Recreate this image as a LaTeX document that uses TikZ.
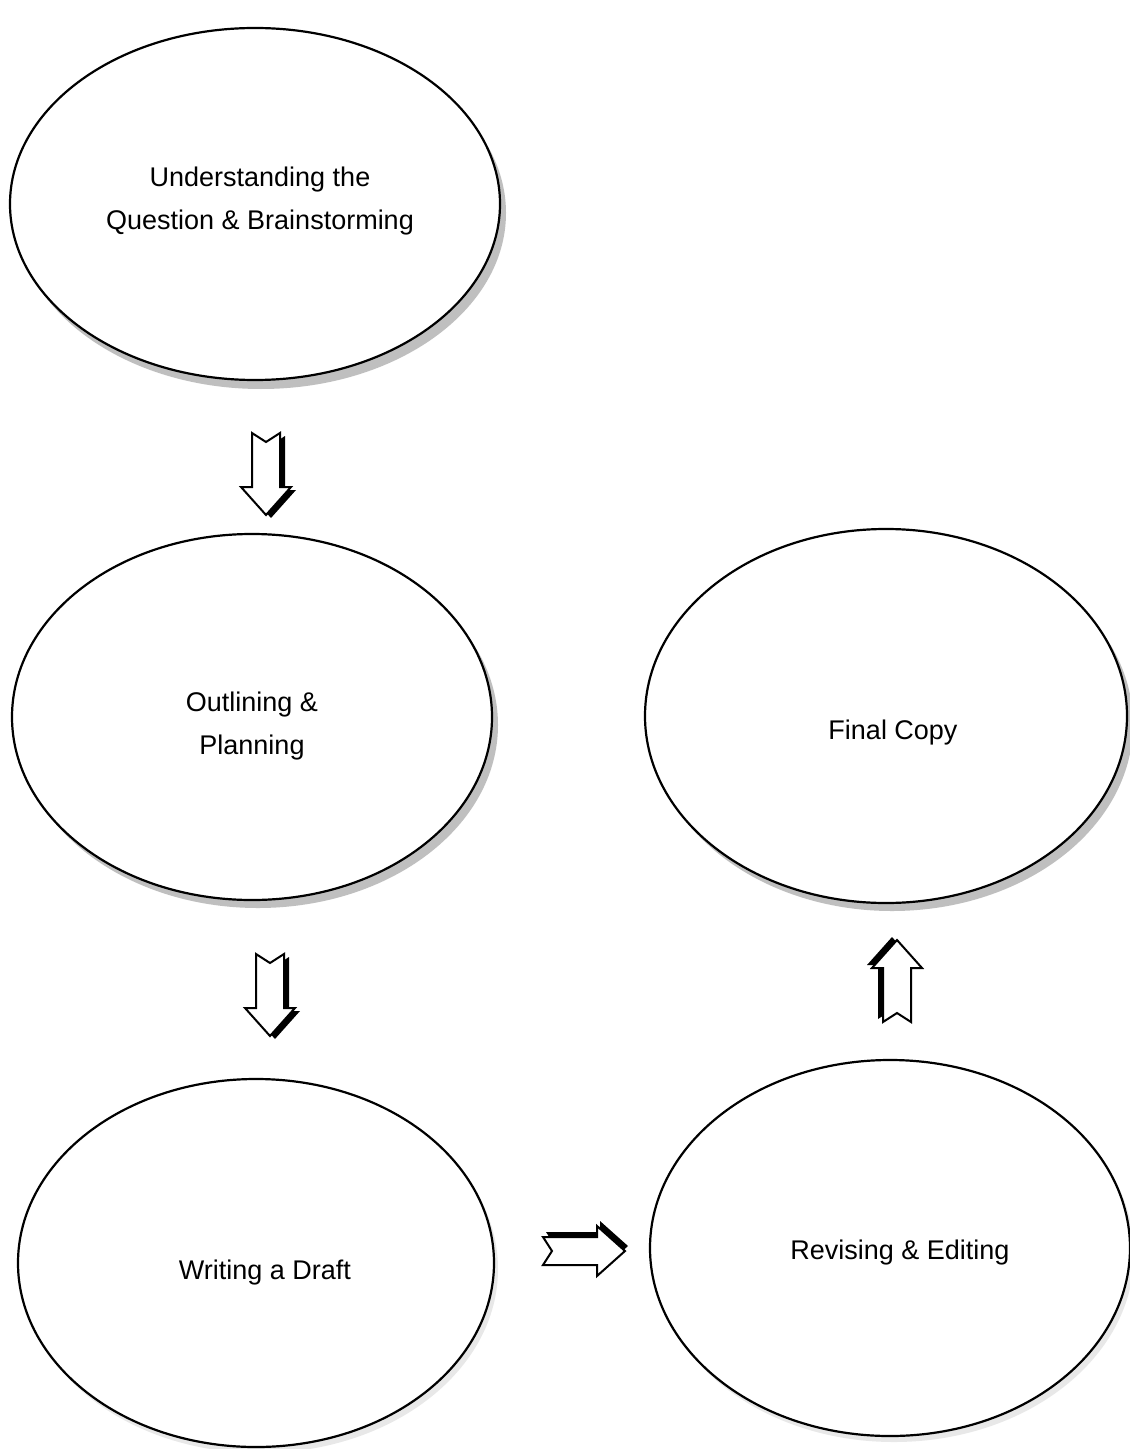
\documentclass[tikz,border=0pt]{standalone}
\usepackage{fontspec}
\setmainfont{Liberation Sans}
\usetikzlibrary{shapes.geometric}
\tikzset{
  stage/.style={ellipse, draw=black, line width=1.1pt, fill=white, inner sep=0pt},
  stagetext/.style={align=center, inner sep=0pt, font=\fontsize{13.5}{21.5}\selectfont},
  shadowell/.style={ellipse, fill=gray!50, draw=none, inner sep=0pt},
  lightshadow/.style={ellipse, fill=gray!18, draw=none, inner sep=0pt},
  blockarrow/.pic={
    \fill[black, shift={(5,3)}] (-14,-41) -- (0,-32) -- (14,-41) -- (14,13) -- (25,13)
      -- (0,41) -- (-25,13) -- (-14,13) -- cycle;
    \draw[line width=1pt, fill=white, line join=miter] (-14,-41) -- (0,-32) -- (14,-41)
      -- (14,13) -- (25,13) -- (0,41) -- (-25,13) -- (-14,13) -- cycle;
  }
}
\begin{document}
\begin{tikzpicture}[x=0.5pt, y=-0.5pt]
\useasboundingbox[fill=white] (0,0) rectangle (1129,1449);
% shadows
\node[shadowell, minimum width=245pt, minimum height=176pt] (s1) at (261,213) {};
\node[shadowell, minimum width=240pt, minimum height=183pt] (s2) at (258,725) {};
\node[shadowell, minimum width=241pt, minimum height=187pt] (s3) at (892,724) {};
\node[lightshadow, minimum width=238pt, minimum height=184pt] (s4) at (260,1269) {};
\node[lightshadow, minimum width=240pt, minimum height=188pt] (s5) at (894,1254) {};
% stages
\node[stage, minimum width=245pt, minimum height=176pt] (e1) at (255,204) {};
\node[stage, minimum width=240pt, minimum height=183pt] (e2) at (252,717) {};
\node[stage, minimum width=241pt, minimum height=187pt] (e3) at (886,716) {};
\node[stage, minimum width=238pt, minimum height=184pt] (e4) at (256,1263) {};
\node[stage, minimum width=240pt, minimum height=188pt] (e5) at (890,1248) {};
% texts
\node[stagetext] (t1) at (260,201) {Understanding the\\Question \& Brainstorming};
\node[stagetext] (t2) at (252,726) {Outlining \&\\Planning};
\node[stagetext] (t3) at (893,733) {Final Copy};
\node[stagetext] (t4) at (265,1273) {Writing a Draft};
\node[stagetext] (t5) at (900,1253) {Revising \& Editing};
% block arrows
\pic at (266,474) {blockarrow};
\pic at (270,995) {blockarrow};
\pic[rotate=180] at (897,981) {blockarrow};
\pic[rotate=90] at (584,1251) {blockarrow};
\end{tikzpicture}
\end{document}
